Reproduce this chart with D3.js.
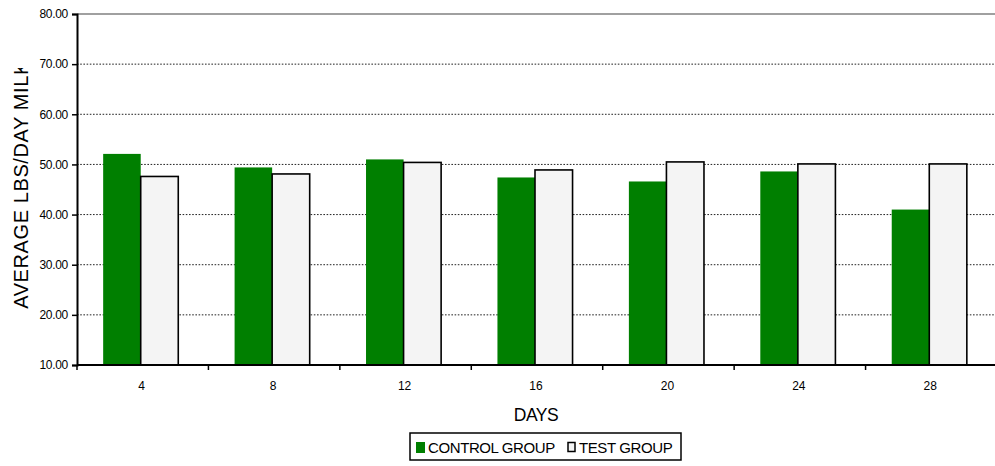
<!DOCTYPE html>
<html>
<head>
<meta charset="utf-8">
<script src="https://cdn.jsdelivr.net/npm/d3@7"></script>
<style>
  body { margin: 0; background: #fff; }
  text { font-family: "Liberation Sans", Arial, sans-serif; fill: #000; }
</style>
</head>
<body>
<div id="chart"></div>
<script>
// read in the data
var days = ['4', '8', '12', '16', '20', '24', '28'];
var series = ['CONTROL GROUP', 'TEST GROUP'];
var controlGroup = [52.1, 49.4, 51.0, 47.4, 46.6, 48.6, 41.0];
var testGroup = [47.6, 48.1, 50.4, 48.9, 50.5, 50.1, 50.1];
var yTicks = [10, 20, 30, 40, 50, 60, 70, 80];
var colors = ['#007f00', '#f4f4f4'];

var width = 995, height = 466;
var margin = {left: 77, top: 14, right: -2, bottom: 101};
var innerW = width - margin.left - margin.right;
var innerH = height - margin.top - margin.bottom;

var svg = d3.select('#chart').append('svg')
    .attr('width', width)
    .attr('height', height);

var g = svg.append('g')
    .attr('transform', 'translate(' + margin.left + ',' + margin.top + ')');

var x0 = d3.scaleBand().domain(days).range([0, innerW]).padding(0);
var x1 = d3.scaleBand().domain(series).range([-2, x0.bandwidth() - 2])
    .paddingInner(0).paddingOuter(0.75);
var y = d3.scaleLinear().domain([10, 80]).range([innerH, 0]);

// dotted grid lines
g.selectAll('.grid')
    .data(yTicks.filter(function(d) { return d > 10 && d < 80; }))
  .enter().append('line')
    .attr('x1', 0).attr('x2', innerW)
    .attr('y1', function(d) { return y(d); })
    .attr('y2', function(d) { return y(d); })
    .attr('stroke', '#222')
    .attr('stroke-width', 1)
    .attr('stroke-dasharray', '1.6,1.6');

// top border
g.append('line')
    .attr('x1', 0).attr('x2', innerW)
    .attr('y1', y(80)).attr('y2', y(80))
    .attr('stroke', '#808080')
    .attr('stroke-width', 1.5);

// bars
var rows = days.map(function(d, i) {
  return {day: d, values: [controlGroup[i], testGroup[i]]};
});

var groups = g.selectAll('.day')
    .data(rows)
  .enter().append('g')
    .attr('transform', function(d) { return 'translate(' + x0(d.day) + ',0)'; });

groups.selectAll('rect')
    .data(function(d) { return d.values.map(function(v, i) { return {s: series[i], v: v, i: i}; }); })
  .enter().append('rect')
    .attr('x', function(d) { return x1(d.s); })
    .attr('width', x1.bandwidth())
    .attr('y', function(d) { return y(d.v); })
    .attr('height', function(d) { return innerH - y(d.v); })
    .attr('fill', function(d) { return colors[d.i]; })
    .attr('stroke', function(d) { return d.i == 1 ? '#000' : 'none'; })
    .attr('stroke-width', 1.6);

// y axis
var yAxis = g.append('g')
    .call(d3.axisLeft(y).tickValues(yTicks).tickSize(5).tickFormat(d3.format('.2f')));
yAxis.select('.domain').attr('stroke', '#000').attr('stroke-width', 2);
yAxis.selectAll('.tick line').attr('stroke', '#000').attr('stroke-width', 1.5);
yAxis.selectAll('text')
    .attr('x', -9)
    .style('font-size', '12px')
    .style('font-family', '"Liberation Sans", Arial, sans-serif')
    .style('letter-spacing', '-0.3px')
    .attr('fill', '#000');

// x axis with ticks between categories
var xAxis = g.append('g').attr('transform', 'translate(0,' + innerH + ')');
xAxis.append('line')
    .attr('x1', 0).attr('x2', innerW)
    .attr('stroke', '#000').attr('stroke-width', 2);
xAxis.selectAll('.sep')
    .data(days)
  .enter().append('line')
    .attr('x1', function(d) { return x0(d); })
    .attr('x2', function(d) { return x0(d); })
    .attr('y1', 0).attr('y2', 5)
    .attr('stroke', '#000').attr('stroke-width', 1.5);
xAxis.selectAll('.lbl')
    .data(days)
  .enter().append('text')
    .attr('x', function(d) { return x0(d) + x0.bandwidth() / 2 - 1; })
    .attr('y', 25)
    .attr('text-anchor', 'middle')
    .style('font-size', '12px')
    .text(function(d) { return d; });

// axis titles
svg.append('text')
    .attr('x', 536).attr('y', 421)
    .attr('text-anchor', 'middle')
    .style('font-size', '17.5px')
    .style('letter-spacing', '-0.5px')
    .text('DAYS');

svg.append('clipPath').attr('id', 'yclip')
  .append('rect').attr('x', 0).attr('y', 68).attr('width', 40).attr('height', 320);

svg.append('g')
    .attr('clip-path', 'url(#yclip)')
  .append('text')
    .attr('transform', 'translate(28,185) rotate(-90)')
    .attr('text-anchor', 'middle')
    .style('font-size', '20px')
    .style('letter-spacing', '0.6px')
    .text('AVERAGE LBS/DAY MILK');

// legend
var legend = svg.append('g').attr('transform', 'translate(410,433)');
legend.append('rect')
    .attr('width', 271).attr('height', 27)
    .attr('fill', '#fff').attr('stroke', '#000').attr('stroke-width', 1.5);
legend.append('rect')
    .attr('x', 6).attr('y', 9).attr('width', 9).attr('height', 11)
    .attr('fill', colors[0]);
legend.append('text')
    .attr('x', 18).attr('y', 20)
    .style('font-size', '15px')
    .style('letter-spacing', '-0.4px')
    .text(series[0]);
legend.append('rect')
    .attr('x', 158).attr('y', 9.5).attr('width', 7).attr('height', 9)
    .attr('fill', colors[1]).attr('stroke', '#000').attr('stroke-width', 1.5);
legend.append('text')
    .attr('x', 169).attr('y', 20)
    .style('font-size', '15px')
    .style('letter-spacing', '-0.4px')
    .text(series[1]);
</script>
</body>
</html>
